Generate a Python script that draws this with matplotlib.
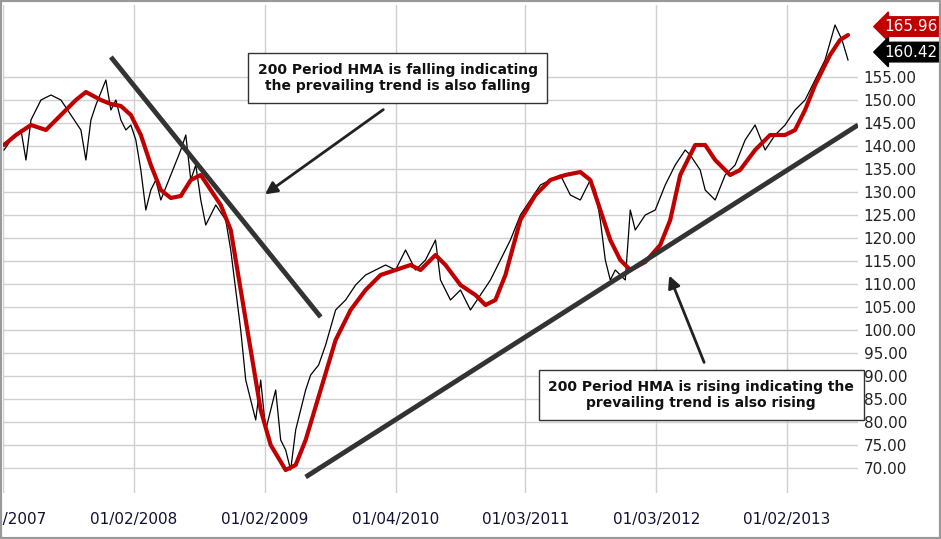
import numpy as np
import matplotlib
matplotlib.use("Agg")
import matplotlib.pyplot as plt

# readings from the chart (fractional year, price)
def yr(p): return 2007.083 + (np.array(p, float) - 2) / 131.0
def pr(p): return 171.74 - np.array(p, float) * 5 / 23.0

hma_x = yr([3,15,30,45,60,75,85,100,110,120,130,140,150,160,170,180,190,200,210,220,230,240,250,260,270,285,295,305,320,335,350,365,380,395,410,420,435,445,460,475,485,495,505,520,535,550,565,580,590,600,610,620,630,645,660,670,680,695,705,715,730,740,755,770,785,795,805,815,830,840,848])
hma_y = pr([145,135,125,130,115,100,92,100,104,106,115,135,165,190,198,196,180,175,190,205,230,290,350,410,445,470,465,440,390,340,310,290,275,270,265,270,255,265,285,295,305,300,275,220,195,180,175,172,180,210,240,260,270,262,245,220,175,145,145,160,175,170,150,135,135,130,110,85,55,40,35])
px_x = yr([3,10,20,25,30,40,50,60,70,80,85,90,95,105,110,115,120,125,130,135,140,145,150,155,160,170,180,185,190,195,200,205,210,215,225,230,235,240,245,250,255,260,265,275,280,285,290,295,300,305,310,318,325,335,345,355,365,375,385,395,405,415,425,435,440,450,460,470,480,490,500,510,520,530,540,550,560,570,580,590,595,600,605,610,615,620,625,630,635,645,655,665,675,685,690,700,705,715,725,735,745,755,765,775,785,795,805,815,825,835,842,848])
px_y = pr([150,140,130,160,120,100,95,100,115,130,160,120,105,80,110,100,120,130,125,140,170,210,190,180,200,175,150,135,180,165,200,225,215,205,220,250,290,330,380,400,420,380,430,390,440,450,470,430,410,390,375,365,345,310,300,285,275,270,265,270,250,270,260,240,280,300,290,310,295,280,260,240,215,200,185,180,175,195,200,180,190,220,260,280,270,275,280,210,230,215,210,185,165,150,155,170,190,200,175,165,140,125,150,135,125,110,100,80,60,25,40,60])

tick_pos = [2007.083, 2008.083, 2009.083, 2010.25, 2011.16, 2012.16, 2013.083]
tick_lab = ["01/02/2007", "01/02/2008", "01/02/2009", "01/04/2010", "01/03/2011", "01/03/2012", "01/02/2013"]
tick_px = [2, 133, 264, 395, 525, 656, 787]
tick_pos = list(yr(tick_px))
last_close, last_hma = 160.42, 165.96

fig = plt.figure(figsize=(9.41, 5.39), dpi=100)
ax = fig.add_axes([3/941, 46/539, 855/941, 488/539])
xl = (yr(3)[()], yr(858)[()])
ax.set_xlim(*xl)
ax.set_ylim(pr(493)[()], pr(5)[()])
ax.set_xticks(tick_pos)
ax.set_xticklabels(tick_lab, fontsize=11, color="#111133", family="DejaVu Sans")
ax.set_yticks(np.arange(70, 160, 5))
ax.set_yticklabels([f"{v:.2f}" for v in np.arange(70, 160, 5)], fontsize=11, color="#222222")
ax.yaxis.tick_right()
ax.tick_params(length=0, pad=4)
ax.tick_params(axis="x", pad=14)
ax.grid(True, color="#d0d0d0", lw=1)
for s in ax.spines.values():
    s.set_visible(False)

ax.plot(px_x, px_y, color="black", lw=0.9)
ax.plot(hma_x, hma_y, color="#c00000", lw=3, solid_capstyle="round")

# trend lines
ax.plot(yr([110, 320]), pr([57, 317]), color="#333333", lw=3.5, solid_capstyle="butt")
ax.plot(yr([305, 858]), pr([477, 125]), color="#333333", lw=3.5, solid_capstyle="butt")

kw = dict(fontsize=10, fontweight="bold", ha="center", va="center", color="#111111",
          bbox=dict(boxstyle="square,pad=0.7", fc="white", ec="#333333", lw=1))
ax.text(yr(397), pr(78), "200 Period HMA is falling indicating\nthe prevailing trend is also falling", **kw)
ax.text(yr(701), pr(395), "200 Period HMA is rising indicating the\nprevailing trend is also rising", **kw)
ap = dict(arrowstyle="-|>", color="#222222", lw=2, mutation_scale=18)
ax.annotate("", xy=(yr(262), pr(196)), xytext=(yr(385), pr(108)), arrowprops=ap)
ax.annotate("", xy=(yr(668), pr(273)), xytext=(yr(705), pr(365)), arrowprops=ap)

# price tags
ax.text(xl[1] + 0.2, last_hma, f"{last_hma:.2f}", fontsize=11, color="white", va="center", ha="left",
        bbox=dict(boxstyle="larrow,pad=0.15", fc="#c00000", ec="#c00000"), clip_on=False)
ax.text(xl[1] + 0.2, last_close, f"{last_close:.2f}", fontsize=11, color="white", va="center", ha="left",
        bbox=dict(boxstyle="larrow,pad=0.15", fc="black", ec="black"), clip_on=False)

fig.patches.append(plt.Rectangle((0, 0), 1, 1, transform=fig.transFigure, fill=False, ec="#999999", lw=3))
fig.savefig("out.png", dpi=100)
